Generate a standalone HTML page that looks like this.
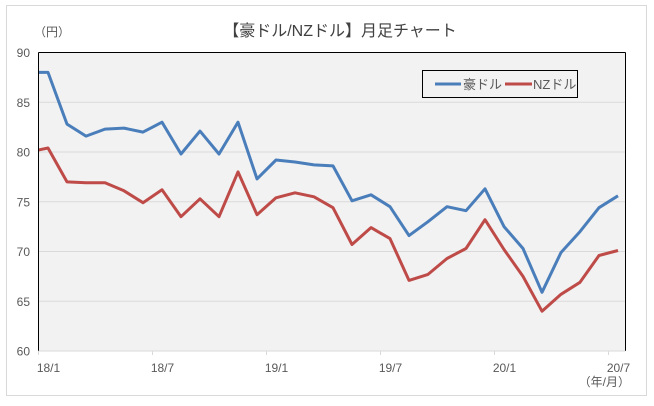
<!DOCTYPE html>
<html><head><meta charset="utf-8"><style>
body{margin:0;background:#fff;width:654px;height:401px;overflow:hidden;font-family:"Liberation Sans","Noto Sans CJK JP",sans-serif}
</style></head><body>
<svg width="654" height="401" font-family="Liberation Sans, Noto Sans CJK JP, sans-serif">
<rect x="6.5" y="5.5" width="640" height="390" fill="#fff" stroke="#d9d9d9"/>
<text x="340" y="36" font-size="16" text-anchor="middle" fill="#404040">【豪ドル/NZドル】月足チャート</text>
<text x="34" y="36" font-size="12" fill="#595959">（円）</text>
<rect x="38.5" y="52.5" width="587" height="298.5" fill="#f2f2f2"/>
<g id="grid"></g>
<g id="series"></g>
<rect x="38.5" y="37.5" width="587" height="313.5" fill="none" stroke="none"/>
<line x1="38.5" y1="52.5" x2="625.5" y2="52.5" stroke="#000"/>
<line x1="625.5" y1="52.5" x2="625.5" y2="351" stroke="#000"/>
<line x1="38.5" y1="52.5" x2="38.5" y2="351" stroke="#000"/>
<line x1="38.5" y1="351" x2="625.5" y2="351" stroke="#d9d9d9"/>
<g id="labels"></g>
<text x="630" y="386" font-size="12" text-anchor="end" fill="#595959">（年/月）</text>
<g>
<rect x="422.5" y="70.5" width="155" height="27" fill="#f2f2f2" stroke="#000"/>
<line x1="435" y1="84" x2="461" y2="84" stroke="#4a7ebb" stroke-width="3"/>
<text x="463" y="89" font-size="13" fill="#595959">豪ドル</text>
<line x1="505" y1="84" x2="532" y2="84" stroke="#be4b48" stroke-width="3"/>
<text x="533" y="89" font-size="13" fill="#595959">NZドル</text>
</g>
</svg>
<script>
const audValues=[88.0,88.0,82.8,81.6,82.3,82.4,82.0,83.0,79.8,82.1,79.8,83.0,77.3,79.2,79.0,78.7,78.6,75.1,75.7,74.5,71.6,73.0,74.5,74.1,76.3,72.5,70.3,65.9,69.9,72.0,74.4,75.6];
const nzdValues=[80.0,80.4,77.0,76.9,76.9,76.1,74.9,76.2,73.5,75.3,73.5,78.0,73.7,75.4,75.9,75.5,74.4,70.7,72.4,71.3,67.1,67.7,69.3,70.3,73.2,70.2,67.5,64.0,65.7,66.9,69.6,70.1];
const yTicks=[60,65,70,75,80,85,90];
const xTickLabels=["18/1","18/7","19/1","19/7","20/1","20/7"];
const NS="http://www.w3.org/2000/svg";
const X0=38.5,MONTH=19,Y60=351,PER=9.95;
function yScale(v){return Y60-(v-60)*PER;}
function xScale(i){return X0+MONTH*(i-0.5);} // index 0 = 17/12 (clipped)
const grid=document.getElementById('grid'),labels=document.getElementById('labels'),series=document.getElementById('series');
yTicks.forEach(t=>{
  const y=yScale(t);
  if(t>60&&t<90){const l=document.createElementNS(NS,'line');
  l.setAttribute('x1',X0);l.setAttribute('x2',625.5);l.setAttribute('y1',y);l.setAttribute('y2',y);
  l.setAttribute('stroke','#d9d9d9');
  
  
  grid.appendChild(l);}
  const tx=document.createElementNS(NS,'text');
  tx.setAttribute('x',30);tx.setAttribute('y',y+4.5);tx.setAttribute('text-anchor','end');tx.setAttribute('font-size','12');tx.setAttribute('fill','#595959');
  tx.textContent=t;
  
  
  labels.appendChild(tx);
});
xTickLabels.forEach((s,k)=>{
  const x=X0+MONTH*6*k;
  const l=document.createElementNS(NS,'line');
  l.setAttribute('x1',x);l.setAttribute('x2',x);l.setAttribute('y1',351);l.setAttribute('y2',355);l.setAttribute('stroke','#d9d9d9');
  
  
  labels.appendChild(l);
  const tx=document.createElementNS(NS,'text');
  tx.setAttribute('x',k==5?x+10:x+10);tx.setAttribute('y',372);tx.setAttribute('text-anchor','middle');tx.setAttribute('font-size','12');tx.setAttribute('fill','#595959');
  tx.textContent=s;
  
  
  labels.appendChild(tx);
});
const cp=document.createElementNS(NS,'clipPath');cp.setAttribute('id','clip');
const cr=document.createElementNS(NS,'rect');cr.setAttribute('x',X0);cr.setAttribute('y',40);cr.setAttribute('width',600);cr.setAttribute('height',320);
cp.appendChild(cr);series.appendChild(cp);
[[audValues,'#4a7ebb','aud-line'],[nzdValues,'#be4b48','nzd-line']].forEach(([vals,col,name])=>{
  const p=document.createElementNS(NS,'polyline');
  p.setAttribute('points',vals.map((v,i)=>xScale(i).toFixed(1)+','+yScale(v).toFixed(1)).join(' '));
  p.setAttribute('fill','none');p.setAttribute('stroke',col);p.setAttribute('stroke-width','3');p.setAttribute('stroke-linejoin','round');
  p.setAttribute('clip-path','url(#clip)');
  
  
  series.appendChild(p);
});
</script>
</body></html>
